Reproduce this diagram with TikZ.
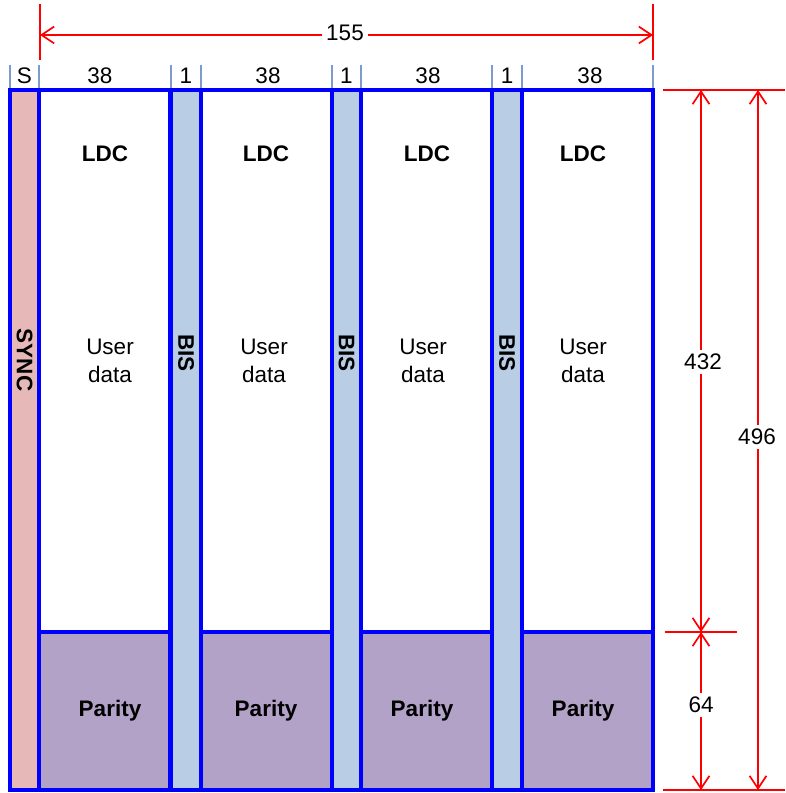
\documentclass[tikz,border=0pt]{standalone}
\usepackage{fontspec}
\setmainfont{Liberation Sans}
\usetikzlibrary{arrows.meta}

\definecolor{syncpink}{RGB}{230,185,184}
\definecolor{bisblue}{RGB}{185,205,229}
\definecolor{paritymauve}{RGB}{179,162,199}
\definecolor{tickgrey}{RGB}{125,155,205}

\begin{document}
\begin{tikzpicture}[
    x=0.025cm, y=-0.025cm,
    box/.style       = {draw=blue, line width=2.8pt, rectangle, inner sep=0pt,
                        outer sep=0pt, anchor=north west},
    syncbox/.style   = {box, fill=syncpink, minimum width={29*0.025cm},
                        minimum height={700*0.025cm}},
    bisbox/.style    = {box, fill=bisblue, minimum width={30*0.025cm},
                        minimum height={700*0.025cm}},
    databox/.style   = {box, fill=white, minimum width={131*0.025cm},
                        minimum height={542*0.025cm}},
    paritybox/.style = {box, fill=paritymauve, minimum width={131*0.025cm},
                        minimum height={158*0.025cm}},
    txt/.style       = {font=\fontsize{16}{20}\selectfont, align=center, inner sep=1pt},
    btxt/.style      = {txt, font=\fontsize{16}{20}\selectfont\bfseries},
    vtxt/.style      = {btxt, rotate=-90},
    tick/.style      = {draw=tickgrey, line width=0.8pt},
    dimline/.style   = {draw=red, line width=1.2pt},
    dimarrow/.style  = {dimline, {Straight Barb[length=9pt, width=12pt]}-{Straight Barb[length=9pt, width=12pt]}},
    dimlbl/.style    = {txt, fill=white, inner sep=3pt},
]

\useasboundingbox (0,0) rectangle (785,793);

% ============================================================
%  COLUMNS  (SYNC | 38 | 1 | 38 | 1 | 38 | 1 | 38)
% ============================================================

% SYNC column
\node[syncbox] (sync) at (10, 90) {};
\node[vtxt] (synclbl) at (24.5, 360) {SYNC};

% ---- data block 1 ------------------------------------------
\node[databox]   (d1) at (39, 90)  {};
\node[paritybox] (p1) at (39, 632) {};
% ---- BIS 1
\node[bisbox] (b1) at (171, 90) {};
\node[vtxt] (b1lbl) at (186, 353) {BIS};

% ---- data block 2 ------------------------------------------
\node[databox]   (d2) at (201, 90)  {};
\node[paritybox] (p2) at (201, 632) {};
% ---- BIS 2
\node[bisbox] (b2) at (332, 90) {};
\node[vtxt] (b2lbl) at (346.5, 353) {BIS};

% ---- data block 3 ------------------------------------------
\node[databox]   (d3) at (361, 90)  {};
\node[paritybox] (p3) at (361, 632) {};
% ---- BIS 3
\node[bisbox] (b3) at (492, 90) {};
\node[vtxt] (b3lbl) at (507, 353) {BIS};

% ---- data block 4 ------------------------------------------
\node[databox]   (d4) at (522, 90)  {};
\node[paritybox] (p4) at (522, 632) {};

% labels inside the data / parity blocks
\node[btxt] (ldc1) at (105, 154) {LDC};
\node[btxt] (ldc2) at (266, 154) {LDC};
\node[btxt] (ldc3) at (427, 154) {LDC};
\node[btxt] (ldc4) at (583, 154) {LDC};

\node[txt] (ud1) at (110, 361) {User\\data};
\node[txt] (ud2) at (264, 361) {User\\data};
\node[txt] (ud3) at (423, 361) {User\\data};
\node[txt] (ud4) at (583, 361) {User\\data};

\node[btxt] (pl1) at (110, 711) {Parity};
\node[btxt] (pl2) at (266, 711) {Parity};
\node[btxt] (pl3) at (422, 711) {Parity};
\node[btxt] (pl4) at (583, 711) {Parity};

% ============================================================
%  WIDTH HEADER
% ============================================================
\draw[tick] (10, 65)  -- (10, 88);
\draw[tick] (39, 65)  -- (39, 88);
\draw[tick] (171, 65) -- (171, 88);
\draw[tick] (201, 65) -- (201, 88);
\draw[tick] (332, 65) -- (332, 88);
\draw[tick] (361, 65) -- (361, 88);
\draw[tick] (492, 65) -- (492, 88);
\draw[tick] (522, 65) -- (522, 88);
\draw[tick] (653, 65) -- (653, 88);

\node[txt] (hs)  at (24.5, 76) {S};
\node[txt] (h1)  at (100, 76)  {38};
\node[txt] (h2)  at (186, 76)  {1};
\node[txt] (h3)  at (268, 76)  {38};
\node[txt] (h4)  at (346.5, 76) {1};
\node[txt] (h5)  at (428, 76)  {38};
\node[txt] (h6)  at (507, 76)  {1};
\node[txt] (h7)  at (590, 76)  {38};

% ============================================================
%  DIMENSIONS
% ============================================================

% ---- total width 155 ----------------------------------------
\coordinate (wl) at (40, 35);
\coordinate (wr) at (653, 35);
\draw[dimline] (40, 4) -- (40, 60);
\draw[dimline] (653, 4) -- (653, 60);
\draw[dimarrow] (wl) -- (wr);
\node[dimlbl] (w155) at (345, 33) {155};

% ---- extension lines on the right ---------------------------
\draw[dimline] (663, 90)  -- (785, 90);
\draw[dimline] (665, 632) -- (737, 632);
\draw[dimline] (663, 790) -- (785, 790);

% ---- user data height 432 -----------------------------------
\coordinate (ut) at (701, 90);
\coordinate (ub) at (701, 632);
\draw[dimarrow] (ut) -- (ub);
\node[dimlbl] (h432) at (703, 362) {432};

% ---- parity height 64 ---------------------------------------
\coordinate (pt) at (701, 632);
\coordinate (pb) at (701, 790);
\draw[dimarrow] (pt) -- (pb);
\node[dimlbl] (h64) at (701, 705) {64};

% ---- total height 496 ---------------------------------------
\coordinate (tt) at (758, 90);
\coordinate (tb) at (758, 790);
\draw[dimarrow] (tt) -- (tb);
\node[dimlbl] (h496) at (757, 437) {496};

\end{tikzpicture}
\end{document}
